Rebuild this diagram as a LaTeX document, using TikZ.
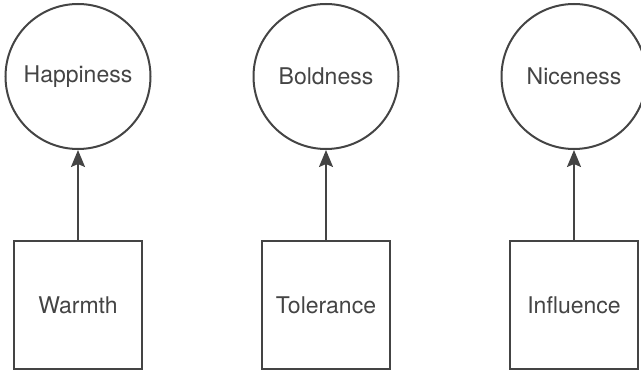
\documentclass[tikz,border=0pt]{standalone}
\usepackage{fontspec}
\setmainfont{TeX Gyre Heros}
\usetikzlibrary{arrows.meta}
\definecolor{ink}{HTML}{444444}
\begin{document}
\begin{tikzpicture}[x=1pt,y=1pt,
  latent/.style={circle,draw=ink,line width=2pt,minimum size=145pt,inner sep=0pt,text=ink,font=\fontsize{23}{26}\selectfont},
  observed/.style={rectangle,draw=ink,line width=2pt,minimum size=128pt,inner sep=0pt,text=ink,font=\fontsize{23}{26}\selectfont},
  link/.style={draw=ink,line width=2pt,-{Stealth[length=17pt,width=14pt,inset=3pt]}}]
\useasboundingbox (0,0) rectangle (641,372);
\node[latent] (hap) at (78,295.5) {Happiness};
\node[latent] (bol) at (326,295.5) {Boldness};
\node[latent] (nic) at (574,295.5) {Niceness};
\node[observed] (war) at (78,67) {Warmth};
\node[observed] (tol) at (326,67) {Tolerance};
\node[observed] (inf) at (574,67) {Influence};
\draw[link] (war) -- (hap);
\draw[link] (tol) -- (bol);
\draw[link] (inf) -- (nic);
\end{tikzpicture}
\end{document}
